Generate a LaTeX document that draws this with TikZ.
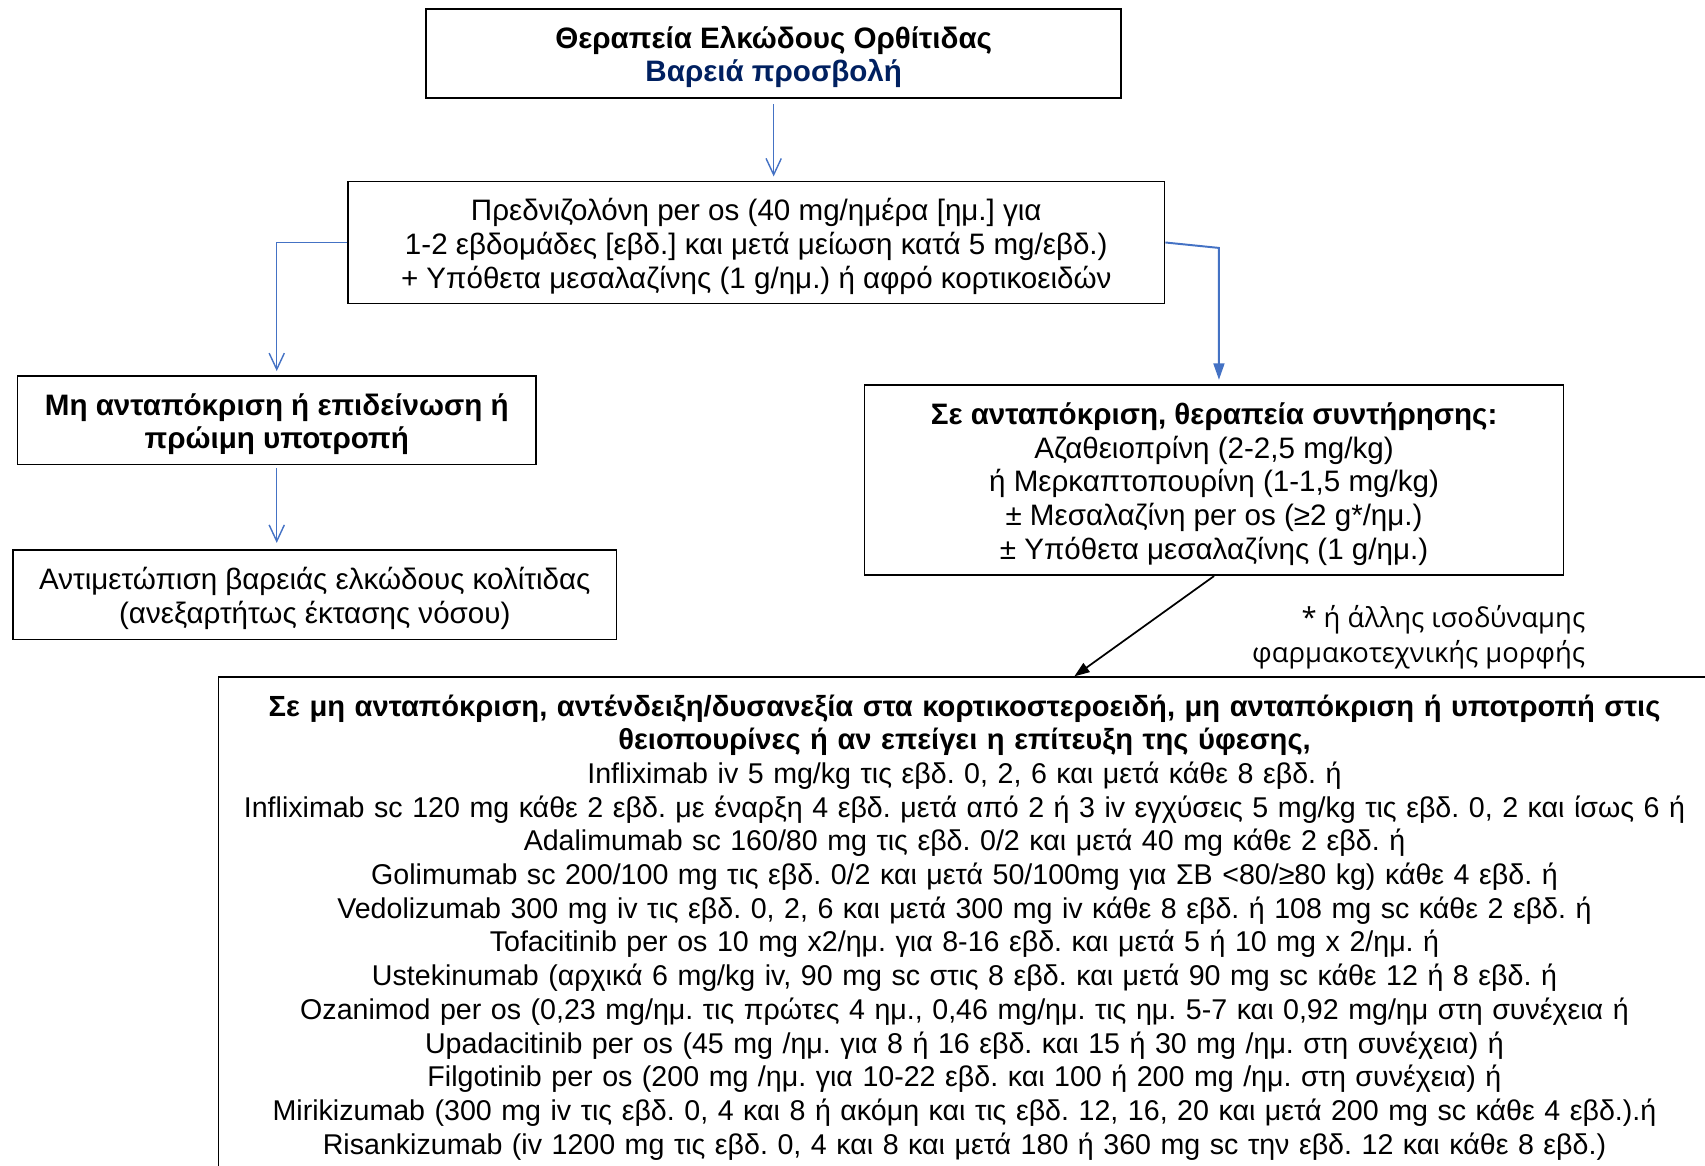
\documentclass[tikz,border=0pt]{standalone}
\usepackage{fontspec}
\setmainfont{Liberation Sans}
\newfontfamily\notefont{Open Sans}
\usepackage{xcolor}
\usetikzlibrary{arrows.meta, positioning}
\definecolor{lineblue}{HTML}{4472C4}
\definecolor{navy}{HTML}{002060}
\frenchspacing

\begin{document}
\begin{tikzpicture}[
        x=1pt, y=-1pt,
        every node/.style={font=\fontsize{27.2}{31}\selectfont, align=center, inner sep=0pt},
        box/.style={draw, line width=1.5pt},
        inside/.style={label={[yshift=-3.5pt]center:{#1}}},
        note/.style={font=\notefont\fontsize{25.2}{32}\selectfont, align=right},
        flow/.style={draw=lineblue, line width=1.3pt, -{Straight Barb[length=15pt, width=14pt]}},
        flowfill/.style={draw=lineblue, line width=1.8pt, -{Triangle[length=15pt, width=10pt]}, color=lineblue},
        pointer/.style={draw=black, line width=1.6pt, -{Triangle[length=14pt, width=10pt]}}
    ]
    \useasboundingbox (0,0) rectangle (1568,1072);

    % Top of the chart
    \node[box, minimum width=639pt, minimum height=82pt,
        inside={\textbf{Θεραπεία Ελκώδους Ορθίτιδας}\\\textcolor{navy}{\textbf{Βαρειά προσβολή}}}] (title) at (711.5,49) {};
    \node[box, minimum width=751pt, minimum height=112pt,
        inside={Πρεδνιζολόνη per os (40 mg/ημέρα [ημ.] για\\1-2 εβδομάδες [εβδ.] και μετά μείωση κατά 5 mg/εβδ.)\\+ Υπόθετα μεσαλαζίνης (1 g/ημ.) ή αφρό κορτικοειδών}] (pred) at (695.5,223) {};

    % Left branch
    \node[box, minimum width=477pt, minimum height=81pt,
        inside={\textbf{Μη ανταπόκριση ή επιδείνωση ή}\\\textbf{πρώιμη υποτροπή}}] (fail) at (254.5,386.5) {};
    \node[box, minimum width=555pt, minimum height=82pt,
        inside={Αντιμετώπιση βαρειάς ελκώδους κολίτιδας\\(ανεξαρτήτως έκτασης νόσου)}] (severe) at (289.5,547) {};

    % Right branch
    \node[box, minimum width=643pt, minimum height=175pt,
        inside={\textbf{Σε ανταπόκριση, θεραπεία συντήρησης:}\\Αζαθειοπρίνη (2-2,5 mg/kg)\\ή Μερκαπτοπουρίνη (1-1,5 mg/kg)\\± Μεσαλαζίνη per os (≥2 g*/ημ.)\\± Υπόθετα μεσαλαζίνης (1 g/ημ.)}] (resp) at (1116.5,441.5) {};
    \node[note, anchor=east] (footnote) at (1458,586)
        {* ή άλλης ισοδύναμης\\φαρμακοτεχνικής μορφής};

    % Biologics and small molecules
    \node[box, anchor=north, text width=1372pt, inner ysep=16pt, font=\fontsize{26.3}{31}\selectfont] (biologics) at (887,622)
        {{\fontsize{26.8}{31}\selectfont\bfseries Σε μη ανταπόκριση, αντένδειξη/δυσανεξία στα κορτικοστεροειδή, μη ανταπόκριση ή υποτροπή στις}\\
         {\fontsize{26.8}{31}\selectfont\bfseries θειοπουρίνες ή αν επείγει η επίτευξη της ύφεσης,}\\
         Infliximab iv 5 mg/kg τις εβδ. 0, 2, 6 και μετά κάθε 8 εβδ. ή\\
         Infliximab sc 120 mg κάθε 2 εβδ. με έναρξη 4 εβδ. μετά από 2 ή 3 iv εγχύσεις 5 mg/kg τις εβδ. 0, 2 και ίσως 6 ή\\
         Adalimumab sc 160/80 mg τις εβδ. 0/2 και μετά 40 mg κάθε 2 εβδ. ή\\
         Golimumab sc 200/100 mg τις εβδ. 0/2 και μετά 50/100mg για ΣΒ <80/≥80 kg) κάθε 4 εβδ. ή\\
         Vedolizumab 300 mg iv τις εβδ. 0, 2, 6 και μετά 300 mg iv κάθε 8 εβδ. ή 108 mg sc κάθε 2 εβδ. ή\\
         Tofacitinib per os 10 mg x2/ημ. για 8-16 εβδ. και μετά 5 ή 10 mg x 2/ημ. ή\\
         Ustekinumab (αρχικά 6 mg/kg iv, 90 mg sc στις 8 εβδ. και μετά 90 mg sc κάθε 12 ή 8 εβδ. ή\\
         Ozanimod per os (0,23 mg/ημ. τις πρώτες 4 ημ., 0,46 mg/ημ. τις ημ. 5-7 και 0,92 mg/ημ στη συνέχεια ή\\
         Upadacitinib per os (45 mg /ημ. για 8 ή 16 εβδ. και 15 ή 30 mg /ημ. στη συνέχεια) ή\\
         Filgotinib per os (200 mg /ημ. για 10-22 εβδ. και 100 ή 200 mg /ημ. στη συνέχεια) ή\\
         Mirikizumab (300 mg iv τις εβδ. 0, 4 και 8 ή ακόμη και τις εβδ. 12, 16, 20 και μετά 200 mg sc κάθε 4 εβδ.).ή\\
         Risankizumab (iv 1200 mg τις εβδ. 0, 4 και 8 και μετά 180 ή 360 mg sc την εβδ. 12 και κάθε 8 εβδ.)};

    % Connectors
    \coordinate (turn) at (1121,228);
    \coordinate (entry) at (988,622);
    \draw[flow, shorten <=5pt, shorten >=4pt] (title.south) -- (title.south |- pred.north);
    \draw[flow, shorten >=4pt] (pred.west) -| (fail.north);
    \draw[flow, shorten <=3pt, shorten >=6pt] (fail.south) -- (fail.south |- severe.north);
    \draw[flowfill, shorten >=4pt] (pred.east) -- (turn) -- (turn |- resp.north);
    \draw[pointer] (resp.south) -- (entry);

\end{tikzpicture}
\end{document}
